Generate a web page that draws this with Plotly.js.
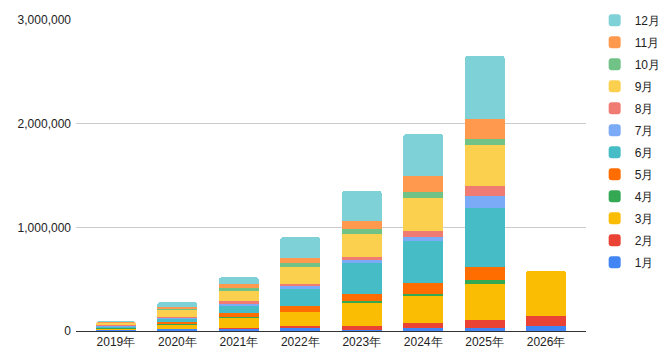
<!DOCTYPE html>
<html>
<head>
<meta charset="utf-8">
<script src="https://cdn.plot.ly/plotly-3.0.1.min.js"></script>
<style>html,body{margin:0;padding:0;background:#fff;}#chart{width:671px;height:363px;}</style>
</head>
<body>
<div id="chart"></div>
<script>
const years = ['2019年','2020年','2021年','2022年','2023年','2024年','2025年','2026年'];
const months = ['1月','2月','3月','4月','5月','6月','7月','8月','9月','10月','11月','12月'];
const m1  = [5000, 16000, 16000, 26000, 13000, 29000, 32000, 51000];
const m2  = [3000, 7000, 15000, 19000, 33000, 48000, 74000, 94000];
const m3  = [15000, 39000, 96000, 135000, 225000, 260000, 347000, 434000];
const m4  = [3000, 10000, 10000, 7000, 22000, 22000, 39000, null];
const m5  = [5000, 17000, 39000, 51000, 65000, 100000, 129000, null];
const m6  = [10000, 24000, 68000, 171000, 299000, 411000, 566000, null];
const m7  = [8000, 13000, 19000, 22000, 26000, 33000, 116000, null];
const m8  = [10000, 10000, 26000, 19000, 32000, 58000, 96000, null];
const m9  = [15000, 68000, 99000, 167000, 222000, 321000, 399000, null];
const m10 = [5000, 10000, 29000, 42000, 48000, 55000, 58000, null];
const m11 = [10000, 22000, 33000, 48000, 77000, 154000, 187000, null];
const m12 = [6000, 43000, 68000, 199000, 289000, 408000, 611000, null];
const series = [m1,m2,m3,m4,m5,m6,m7,m8,m9,m10,m11,m12];
const colors = ['#4285F4','#EA4335','#FBBC04','#34A853','#FF6D01','#46BDC6','#7BAAF7','#F07B72','#FCD04F','#71C287','#FF994D','#7ED1D7'];

const traces = months.map((m, i) => ({
  type: 'bar',
  name: m,
  legendgroup: 'g' + i,
  legendrank: 100 - i,
  x: years,
  y: series[i],
  marker: {color: colors[i], line: {width: 0}},
  hoverinfo: 'x+y+name'
}));

const layout = {
  width: 671, height: 363,
  margin: {l: 76, r: 85, t: 20, b: 32, autoexpand: false},
  barmode: 'stack',
  bargap: 0.35,
  barcornerradius: 3,
  font: {family: '"Liberation Sans", Arial, sans-serif', size: 12, color: '#222'},
  paper_bgcolor: '#fff', plot_bgcolor: '#fff',
  xaxis: {
    range: [-0.65, 7.65],
    showgrid: false,
    showline: true, linecolor: '#333', linewidth: 1,
    ticks: '', tickfont: {size: 12, color: '#222'},
    fixedrange: true
  },
  yaxis: {
    range: [0, 3000000],
    tickvals: [0, 1000000, 2000000, 3000000],
    tickformat: ',d',
    gridcolor: '#cccccc', gridwidth: 1,
    zeroline: true, zerolinecolor: '#333', zerolinewidth: 1,
    showline: false, ticks: '',
    tickfont: {size: 12, color: '#222'},
    ticklabelstandoff: 4,
    fixedrange: true
  },
  legend: {
    x: 1.017, y: 1.046, xanchor: 'left', yanchor: 'top',
    traceorder: 'grouped',
    tracegroupgap: 3,
    maxheight: 350,
    font: {size: 12, color: '#222'},
    bgcolor: 'rgba(0,0,0,0)'
  },
  showlegend: true
};

Plotly.newPlot('chart', traces, layout, {displayModeBar: false, staticPlot: true});
</script>
</body>
</html>
